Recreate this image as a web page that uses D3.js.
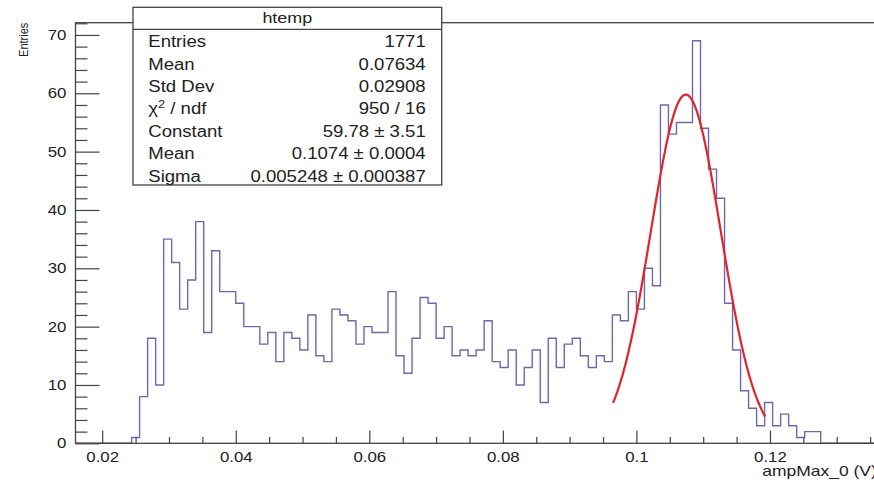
<!DOCTYPE html>
<html>
<head>
<meta charset="utf-8">
<script src="https://cdn.jsdelivr.net/npm/d3@7"></script>
<style>
  body { margin:0; overflow:hidden; background:#fff; }
  svg { display:block; }
  text { font-family: "Liberation Sans", Arial, Helvetica, sans-serif; fill:#222; }
</style>
</head>
<body>
<script>
// ampMax_0 histogram, 100 bins between 0.016 and 0.136
var binRange = [0.016, 0.136];
var counts = [
  0, 0, 0, 0, 0, 0, 0, 1, 8, 18,
  10, 35, 31, 23, 28, 38, 19, 33, 26, 26,
  24, 20, 20, 17, 19, 14, 19, 18, 16, 22,
  15, 14, 23, 22, 21, 17, 20, 19, 19, 26,
  15, 12, 18, 25, 24, 18, 20, 15, 16, 15,
  16, 21, 14, 13, 16, 10, 13, 16, 7, 18,
  13, 17, 18, 15, 13, 15, 14, 22, 21, 26,
  23, 30, 27, 58, 53, 55, 55, 69, 54, 47,
  42, 24, 16, 9, 6, 3, 7, 3, 5, 3,
  1, 2, 2, 0, 0, 0, 0, 0, 0, 0
];

// gaus fit shown in the stat box
var fitConstant = 59.78;
var fitMean = 0.1074;
var fitSigma = 0.005248;
var fitRange = [0.0965, 0.1193];

var xTicks = [0.02, 0.04, 0.06, 0.08, 0.1, 0.12];
var yTicks = [0, 10, 20, 30, 40, 50, 60, 70];
var yMax = 72.1;

var statNames = ['Entries', 'Mean', 'Std Dev', 'chi', 'Constant', 'Mean', 'Sigma'];
var statValues = ['1771', '0.07634', '0.02908', '950 / 16', '59.78 \u00b1 3.51',
                  '0.1074 \u00b1 0.0004', '0.005248 \u00b1 0.000387'];

var screen = { width: 900, height: 482 };
var frame = { left: 75.5, right: 876.8, top: 22.7, bottom: 443.3 };
var stretch = 1.16; // the picture is a bit wider than tall

var svg = d3.select('body')
            .append('svg')
            .attr('width', screen.width)
            .attr('height', screen.height);

var x = d3.scaleLinear().domain(binRange).range([frame.left, frame.right]);
var y = d3.scaleLinear().domain([0, yMax]).range([frame.bottom, frame.top]);

var widen = function(sel, origin, k){
  sel.style('transform-box', 'fill-box')
     .style('transform-origin', origin)
     .style('transform', 'scaleX(' + (k || stretch) + ')');
};

// histogram outline
var binW = (binRange[1] - binRange[0]) / counts.length;
var pts = [[binRange[0], 0]];
counts.forEach(function(c, i){
  pts.push([binRange[0] + i * binW, c]);
  pts.push([binRange[0] + (i + 1) * binW, c]);
});
pts.push([binRange[1], 0]);

var line = d3.line()
             .x(function(d){ return x(d[0]); })
             .y(function(d){ return y(d[1]); });

svg.append('path')
   .datum(pts)
   .attr('d', line)
   .attr('fill', 'none')
   .attr('stroke', '#6a6ab0')
   .attr('stroke-width', 1.4);

// fit curve
var gaus = d3.range(0, 121).map(function(i){
  var v = fitRange[0] + i * (fitRange[1] - fitRange[0]) / 120;
  var t = (v - fitMean) / fitSigma;
  return [v, fitConstant * Math.exp(-0.5 * t * t)];
});
svg.append('path')
   .datum(gaus)
   .attr('d', line)
   .attr('fill', 'none')
   .attr('stroke', '#e2232b')
   .attr('stroke-width', 2.2);

// frame
svg.append('rect')
   .attr('x', frame.left)
   .attr('y', frame.top)
   .attr('width', frame.right - frame.left)
   .attr('height', frame.bottom - frame.top)
   .attr('fill', 'none')
   .attr('stroke', '#444')
   .attr('stroke-width', 1.3);

// y axis
var yMinor = d3.range(0, 73, 2).filter(function(v){ return v % 10 !== 0; });
var yAxis = svg.append('g')
   .attr('transform', 'translate(' + frame.left + ',0)')
   .call(d3.axisLeft(y).tickValues(yTicks).tickSize(-24).tickPadding(9));
svg.append('g')
   .attr('transform', 'translate(' + frame.left + ',0)')
   .call(d3.axisLeft(y).tickValues(yMinor).tickSize(-12).tickFormat(''));

// x axis
var xMinor = d3.range(0.025, 0.136, 0.005).filter(function(v){
  return Math.abs(v / 0.02 - Math.round(v / 0.02)) > 0.01;
});
var xAxis = svg.append('g')
   .attr('transform', 'translate(0,' + frame.bottom + ')')
   .call(d3.axisBottom(x).tickValues(xTicks).tickSize(-12.7).tickPadding(8.7)
           .tickFormat(d3.format('~g')));
svg.append('g')
   .attr('transform', 'translate(0,' + frame.bottom + ')')
   .call(d3.axisBottom(x).tickValues(xMinor).tickSize(-6.3).tickFormat(''));

svg.selectAll('.domain').remove();
svg.selectAll('.tick line').attr('stroke', '#444').attr('stroke-width', 1.2);
svg.selectAll('.tick text').attr('font-size', 14.5).attr('fill', '#222')
   .attr('font-family', '"Liberation Sans", Arial, sans-serif');
widen(yAxis.selectAll('.tick text'), 'right center');
widen(xAxis.selectAll('.tick text'), 'center');

// axis titles
var xt = svg.append('text')
   .attr('x', frame.right)
   .attr('y', 476.5)
   .attr('text-anchor', 'end')
   .attr('font-size', 14)
   .text('ampMax_0 (V)');
widen(xt, 'right center', 1.25);

var yt = svg.append('g')
   .attr('transform', 'translate(28.3,' + frame.top + ') rotate(-90)')
   .append('text')
   .attr('text-anchor', 'end')
   .attr('font-size', 11)
   .text('Entries');
yt.style('transform-box', 'fill-box')
  .style('transform-origin', 'center bottom')
  .style('transform', 'scaleY(1.2)');

// stat box
var box = { x: 133, y: 7.3, w: 308.7, h: 177.7, head: 29.3 };
var stats = svg.append('g').classed('stats', true);
stats.append('rect')
     .attr('x', box.x).attr('y', box.y)
     .attr('width', box.w).attr('height', box.h)
     .attr('fill', '#fff')
     .attr('stroke', '#444')
     .attr('stroke-width', 1.3);
stats.append('line')
     .attr('x1', box.x).attr('x2', box.x + box.w)
     .attr('y1', box.head).attr('y2', box.head)
     .attr('stroke', '#444')
     .attr('stroke-width', 1.3);
var title = stats.append('text')
     .attr('x', box.x + box.w / 2)
     .attr('y', 23.3)
     .attr('text-anchor', 'middle')
     .attr('font-size', 15.5)
     .text('htemp');
widen(title, 'center');

statNames.forEach(function(name, i){
  var by = 47.3 + 22.4 * i;
  var t = stats.append('text')
       .attr('x', 148.3)
       .attr('y', by)
       .attr('font-size', 16);
  if (name === 'chi'){
    t.append('tspan').text('\u03c7');
    t.append('tspan').attr('dy', -6).attr('font-size', 11).text('2');
    t.append('tspan').attr('dy', 6).text(' / ndf');
  } else {
    t.text(name);
  }
  widen(t, 'left center');
  var v = stats.append('text')
       .attr('x', 425.7)
       .attr('y', by)
       .attr('text-anchor', 'end')
       .attr('font-size', 16)
       .text(statValues[i]);
  widen(v, 'right center');
});
</script>
</body>
</html>
